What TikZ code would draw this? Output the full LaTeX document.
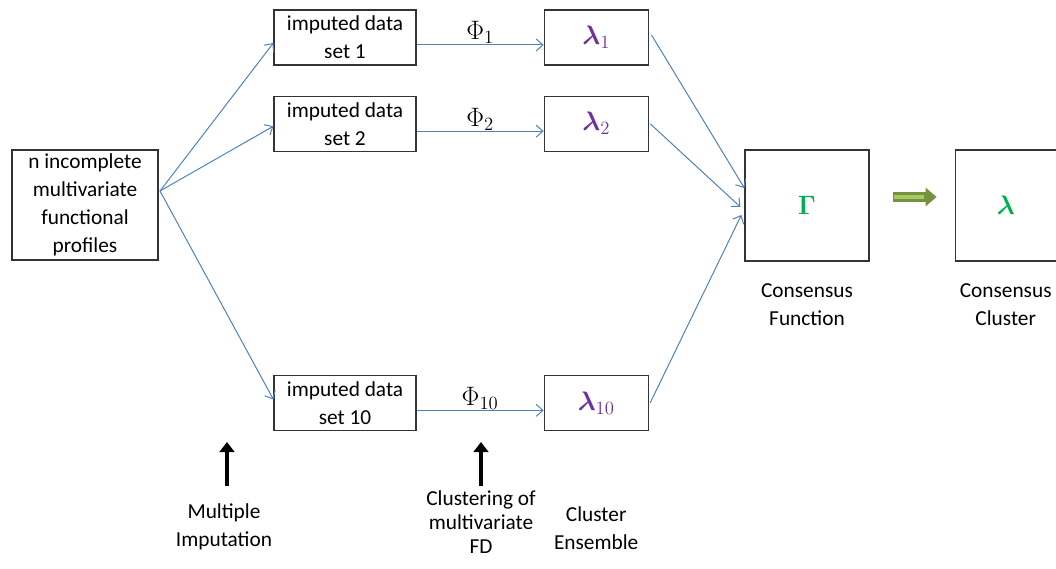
\RequirePackage{fix-cm}
\documentclass[tikz,border=0pt]{standalone}
\usepackage{bm}
\usepackage{fontspec}
\setmainfont{Carlito}
\usetikzlibrary{arrows.meta, positioning}
\definecolor{linkblue}{RGB}{79,129,189}
\definecolor{lampurple}{RGB}{112,48,160}
\definecolor{consgreen}{RGB}{0,176,80}
\definecolor{olivedk}{RGB}{118,146,60}
\definecolor{olivelt}{RGB}{170,200,105}

\begin{document}
\begin{tikzpicture}[
  x=0.75pt, y=-0.75pt,
  font=\fontsize{16}{21}\selectfont,
  box/.style={
    draw=black!80, line width=0.9pt, fill=white,
    inner sep=0pt, align=center, minimum height=41.25pt
  },
  data/.style={box, minimum width=106.5pt},
  lam/.style={box, minimum width=78pt, text=lampurple, greek},
  big/.style={box, minimum height=83.25pt, greek},
  greek/.style={font=\fontsize{20}{21}\selectfont},
  lbl/.style={align=center, inner sep=2pt},
  arr/.style={-{Straight Barb[length=5pt, width=9pt]}, line width=0.75pt, draw=linkblue},
  up/.style={-{Triangle[length=7.5pt, width=11pt]}, line width=3.6pt},
  fat/.style={-{Triangle[length=8.25pt, width=13.5pt]}, line width=7.5pt, draw=olivedk, fill=olivedk},
  fatin/.style={line width=2.5pt, draw=olivelt}
]
  \useasboundingbox (0,0) rectangle (1056,568);

  % source and imputed sets
  \node[box, minimum width=109.5pt, minimum height=82.5pt] (src) at (85,205)
    {n incomplete\\multivariate\\functional\\profiles};
  \node[data] (set1) at (345,37.5) {imputed data\\set 1};
  \node[data, below=22.5pt of set1] (set2) {imputed data\\set 2};
  \node[data, below=167.25pt of set2] (set10) {imputed data\\set 10};

  % cluster ensemble
  \node[lam, right=95.25pt of set1] (lam1) {$\bm{\lambda}_1$};
  \node[lam, right=95.25pt of set2] (lam2) {$\bm{\lambda}_2$};
  \node[lam, right=95.25pt of set10] (lam10) {$\bm{\lambda}_{10}$};

  % consensus
  \node[big, minimum width=93pt] (gam) at (807,205.5)
    {\textcolor{consgreen}{$\bm{\Gamma}$}};
  \node[big, minimum width=75.75pt, right=63.75pt of gam] (cons)
    {\textcolor{consgreen}{$\bm{\lambda}$}};

  % labels
  \node[lbl, below=14pt of gam] (funlab) {Consensus\\Function};
  \node[lbl, below=14pt of cons] (clulab) {Consensus\\Cluster};
  \node[lbl] (milab) at (224,527) {Multiple\\Imputation};
  \node[lbl, anchor=north, font=\fontsize{16}{18}\selectfont] (fdlab) at (481,488)
    {Clustering of\\multivariate\\FD};
  \node[lbl, below=54.75pt of lam10] (enslab) {Cluster\\Ensemble};

  \coordinate (fork) at (160,191);
  \coordinate (mibot) at (227,486);
  \coordinate (mitop) at (227,442);
  \coordinate (fdbot) at (481,486);
  \coordinate (fdtop) at (481,442);

  \draw[arr] (fork) -- ([yshift=-4.1pt]set1.west);
  \draw[arr] (fork) -- ([yshift=-1.9pt]set2.west);
  \draw[arr] (fork) -- ([yshift=2.6pt]set10.west);

  \draw[arr] ([yshift=-5.6pt]set1.east) -- node[above, inner sep=0.5pt, greek] {$\Phi_1$} ([yshift=-5.6pt]lam1.west);
  \draw[arr] ([yshift=-5.6pt]set2.east) -- node[above, inner sep=0.5pt, greek] {$\Phi_2$} ([yshift=-5.6pt]lam2.west);
  \draw[arr] ([yshift=-5.6pt]set10.east) -- node[above, inner sep=0.5pt, greek] {$\Phi_{10}$} ([yshift=-5.6pt]lam10.west);

  \draw[arr] ([xshift=2pt, yshift=1.9pt]lam1.east) -- ([yshift=13.1pt]gam.west);
  \draw[arr] ([xshift=1pt]lam2.east) -- ([xshift=-3pt, yshift=-1.1pt]gam.west);
  \draw[arr] ([xshift=1pt]lam10.east) -- ([xshift=-2.25pt, yshift=-7.1pt]gam.west);

  \draw[fat] ([xshift=17.25pt, yshift=6.4pt]gam.east) -- ([xshift=-13.5pt, yshift=6.4pt]cons.west);
  \draw[fatin] ([xshift=18.5pt, yshift=6.4pt]gam.east) -- ([xshift=-23pt, yshift=6.4pt]cons.west);

  \draw[up] (mibot) -- (mitop);
  \draw[up] (fdbot) -- (fdtop);

\end{tikzpicture}
\end{document}
